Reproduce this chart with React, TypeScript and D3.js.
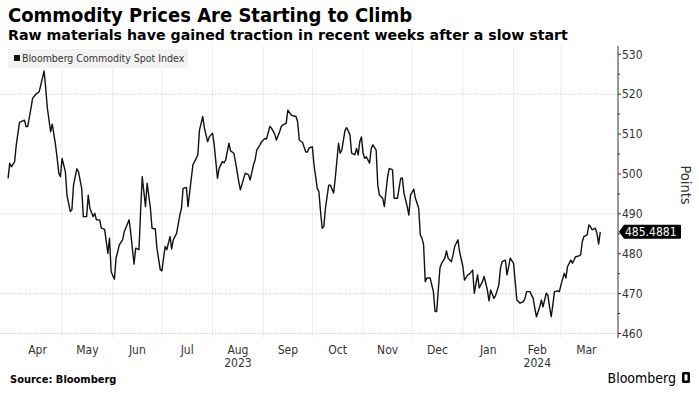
import React from "react";
import * as d3 from "d3";

const dates = [
"2023-03-29","2023-03-30","2023-03-31","2023-04-02","2023-04-03","2023-04-05","2023-04-06","2023-04-08","2023-04-09","2023-04-10",
"2023-04-12","2023-04-13","2023-04-15","2023-04-17","2023-04-18","2023-04-20","2023-04-21","2023-04-22","2023-04-24","2023-04-25",
"2023-04-27","2023-04-28","2023-04-29","2023-04-30","2023-05-01","2023-05-03","2023-05-04","2023-05-06","2023-05-07","2023-05-08",
"2023-05-10","2023-05-11","2023-05-13","2023-05-14","2023-05-16","2023-05-17","2023-05-18","2023-05-20","2023-05-21","2023-05-22",
"2023-05-24","2023-05-25","2023-05-27","2023-05-29","2023-05-30","2023-05-31","2023-06-02","2023-06-03","2023-06-05","2023-06-07",
"2023-06-08","2023-06-11","2023-06-12","2023-06-14","2023-06-15","2023-06-17","2023-06-18","2023-06-19","2023-06-21","2023-06-22",
"2023-06-24","2023-06-25","2023-06-27","2023-06-28","2023-06-30","2023-07-01","2023-07-03","2023-07-04","2023-07-06","2023-07-07",
"2023-07-08","2023-07-10","2023-07-12","2023-07-13","2023-07-14","2023-07-16","2023-07-17","2023-07-19","2023-07-20","2023-07-22",
"2023-07-23","2023-07-24","2023-07-26","2023-07-27","2023-07-29","2023-07-30","2023-08-01","2023-08-02","2023-08-04","2023-08-05",
"2023-08-07","2023-08-08","2023-08-09","2023-08-11","2023-08-12","2023-08-14","2023-08-15","2023-08-17","2023-08-18","2023-08-20",
"2023-08-21","2023-08-23","2023-08-24","2023-08-26","2023-08-27","2023-08-28","2023-08-30","2023-08-31","2023-09-02","2023-09-03",
"2023-09-05","2023-09-06","2023-09-08","2023-09-09","2023-09-11","2023-09-12","2023-09-13","2023-09-15","2023-09-16","2023-09-18",
"2023-09-19","2023-09-21","2023-09-22","2023-09-23","2023-09-25","2023-09-27","2023-09-28","2023-09-29","2023-10-01","2023-10-02",
"2023-10-04","2023-10-05","2023-10-06","2023-10-07","2023-10-08","2023-10-09","2023-10-11","2023-10-12","2023-10-14","2023-10-15",
"2023-10-17","2023-10-18","2023-10-19","2023-10-21","2023-10-22","2023-10-24","2023-10-25","2023-10-27","2023-10-28","2023-10-29",
"2023-10-30","2023-10-31","2023-11-01","2023-11-02","2023-11-03","2023-11-05","2023-11-06","2023-11-07","2023-11-09","2023-11-10",
"2023-11-11","2023-11-13","2023-11-14","2023-11-16","2023-11-17","2023-11-19","2023-11-20","2023-11-22","2023-11-24","2023-11-25",
"2023-11-26","2023-11-28","2023-11-29","2023-11-30","2023-12-02","2023-12-03","2023-12-05","2023-12-06","2023-12-07","2023-12-08",
"2023-12-09","2023-12-10","2023-12-12","2023-12-14","2023-12-15","2023-12-16","2023-12-18","2023-12-19","2023-12-21","2023-12-22",
"2023-12-23","2023-12-25","2023-12-26","2023-12-27","2023-12-29","2023-12-30","2024-01-01","2024-01-02","2024-01-04","2024-01-05",
"2024-01-07","2024-01-08","2024-01-10","2024-01-11","2024-01-13","2024-01-14","2024-01-16","2024-01-17","2024-01-18","2024-01-20",
"2024-01-21","2024-01-23","2024-01-24","2024-01-25","2024-01-27","2024-01-28","2024-01-30","2024-02-01","2024-02-02","2024-02-03",
"2024-02-05","2024-02-07","2024-02-08","2024-02-09","2024-02-11","2024-02-13","2024-02-14","2024-02-15","2024-02-17","2024-02-18",
"2024-02-19","2024-02-21","2024-02-22","2024-02-23","2024-02-24","2024-02-25","2024-02-26","2024-02-28","2024-02-29","2024-03-01",
"2024-03-03","2024-03-04","2024-03-05","2024-03-07","2024-03-08","2024-03-10","2024-03-11","2024-03-13","2024-03-14","2024-03-15",
"2024-03-17","2024-03-18","2024-03-19","2024-03-20","2024-03-22","2024-03-23","2024-03-24","2024-03-25",
];

const values = [
498.9,502.7,501.8,503.1,507.3,513.0,513.1,513.5,511.9,511.9,
516.5,519.0,520.0,520.6,522.3,525.8,521.5,516.5,510.6,512.5,
507.3,503.9,500.2,499.3,503.9,500.6,494.7,490.6,491.0,497.2,
501.3,500.6,496.4,489.3,489.3,494.7,491.4,489.3,490.1,488.5,
488.5,486.4,486.1,480.1,483.9,475.5,473.6,478.9,482.2,483.5,
485.5,488.5,485.1,477.4,481.4,481.0,490.6,499.3,491.8,497.7,
491.4,486.4,486.2,481.4,476.0,475.7,481.8,481.0,484.3,481.2,
483.5,485.1,489.7,491.4,496.4,496.6,491.8,498.9,502.3,503.9,
504.8,511.0,514.4,511.5,508.1,509.3,510.2,507.3,498.9,501.4,
503.1,502.8,503.5,507.7,505.8,505.2,503.1,498.1,496.0,498.9,
500.2,499.8,498.5,502.3,503.5,506.0,507.3,508.1,508.9,508.8,
511.9,511.5,510.0,508.5,510.6,511.9,512.3,512.7,516.0,514.8,
514.6,514.4,513.1,508.5,507.9,505.5,505.5,506.5,506.8,502.3,
496.4,495.6,490.6,486.4,486.8,491.4,497.2,497.2,495.2,498.9,
507.7,505.2,506.0,511.0,511.6,509.8,505.2,504.8,506.4,504.8,
508.1,509.3,505.2,503.9,504.3,502.7,506.4,507.3,506.0,497.2,
494.7,493.9,491.8,499.3,501.4,501.0,493.9,493.9,498.9,499.0,
495.2,491.8,489.7,494.7,496.2,493.9,491.4,484.7,483.9,482.2,
473.0,473.9,473.9,470.5,465.5,465.5,476.4,477.6,478.9,480.7,
478.9,478.0,479.7,481.8,483.5,480.5,476.8,473.4,474.7,474.9,
475.9,470.1,474.7,471.4,473.0,474.3,470.9,468.2,470.9,468.8,
469.5,472.2,476.4,478.0,478.4,474.7,478.9,477.6,473.0,468.4,
467.6,468.0,468.8,470.5,470.5,468.8,466.3,464.2,466.7,468.4,
466.7,470.1,469.6,466.7,464.2,467.1,470.5,470.7,470.5,472.2,
475.1,473.9,476.8,478.4,477.6,479.3,479.3,479.7,483.0,484.3,
484.7,487.2,486.8,486.0,486.4,485.1,482.4,485.4881,
];

const yTicks = [460, 470, 480, 490, 500, 510, 520, 530];
const yMinorTicks = [465, 475, 485, 495, 505, 515, 525];
const yGrid = [460, 470, 490, 520];
const monthLabels = ["Apr", "May", "Jun", "Jul", "Aug", "Sep", "Oct", "Nov", "Dec", "Jan", "Feb", "Mar"];
const monthStarts = ["2023-04-01","2023-05-01","2023-06-01","2023-07-01","2023-08-01","2023-09-01","2023-10-01","2023-11-01","2023-12-01","2024-01-01","2024-02-01","2024-03-01","2024-04-01"];
const yearLabels = [{ label: "2023", month: "Aug" }, { label: "2024", month: "Feb" }];

const title = "Commodity Prices Are Starting to Climb";
const subtitle = "Raw materials have gained traction in recent weeks after a slow start";
const seriesName = "Bloomberg Commodity Spot Index";
const lastLabel = "485.4881";

const W = 699, H = 393;
const condensed = "'DejaVu Sans Condensed', 'Liberation Sans Narrow', 'Liberation Sans', sans-serif";
const wide = "'DejaVu Sans', Verdana, sans-serif";

export default function App() {
  const parse = d3.timeParse("%Y-%m-%d");
  const data = dates.map((d, i) => ({ date: parse(d) as Date, value: values[i] }));
  const starts = monthStarts.map((d) => parse(d) as Date);

  const x = d3.scaleTime().domain([starts[0], starts[11]]).range([13, 561]);
  const y = d3.scaleLinear().domain([460, 530]).range([333.5, 54.3]);
  const plotTop = 46, plotBottom = 338, axisX = 618;

  const line = d3.line<{ date: Date; value: number }>()
    .x((d) => x(d.date))
    .y((d) => y(d.value));

  const last = data[data.length - 1];
  const ly = y(last.value);

  const mids = monthLabels.map((m, i) => ({
    label: m,
    x: (x(starts[i]) + x(starts[i + 1])) / 2,
  }));

  return (
    <svg width={W} height={H} style={{ position: "absolute", left: 0, top: 0, background: "#fff" }}>
      <text x={8} y={22} fontFamily={condensed} fontWeight="bold" fontSize={20} fill="#000">{title}</text>
      <text x={8} y={40} fontFamily={wide} fontWeight="bold" fontSize={14.2} fill="#000">{subtitle}</text>

      {/* vertical month gridlines */}
      {starts.slice(1, 12).map((d, i) => (
        <line key={"vg" + i} x1={x(d)} x2={x(d)} y1={plotTop} y2={plotBottom} stroke="#ececec" strokeWidth={1} />
      ))}
      {/* horizontal gridlines */}
      {yGrid.map((v) => (
        <line key={"hg" + v} x1={0} x2={axisX} y1={y(v)} y2={y(v)} stroke="#c8c8c8" strokeWidth={1} strokeDasharray="1,1.5" />
      ))}

      {/* legend */}
      <rect x={8} y={49} width={180} height={19} fill="#f3f3f3" />
      <rect x={14} y={55} width={6} height={6} fill="#111" />
      <text x={22} y={62} fontFamily={condensed} fontSize={10.5} fill="#333">{seriesName}</text>

      {/* line */}
      <path d={line(data) || ""} fill="none" stroke="#111" strokeWidth={1.4} strokeLinejoin="round" />

      {/* right axis */}
      <line x1={axisX} x2={axisX} y1={plotTop} y2={plotBottom} stroke="#333" strokeWidth={1} />
      {yTicks.map((v) => (
        <g key={"yt" + v}>
          <line x1={axisX} x2={axisX + 3} y1={y(v)} y2={y(v)} stroke="#333" />
          <text x={axisX + 4} y={y(v)} dy="0.35em" fontFamily={condensed} fontSize={12} fill="#333">{v}</text>
        </g>
      ))}
      {yMinorTicks.map((v) => (
        <line key={"ym" + v} x1={axisX} x2={axisX + 2} y1={y(v)} y2={y(v)} stroke="#333" />
      ))}
      <text transform={`translate(681,185) rotate(90)`} textAnchor="middle" fontFamily={condensed} fontSize={14.5} fill="#333">Points</text>

      {/* last value badge */}
      <path d={`M${axisX + 1},${ly} L${axisX + 6},${ly - 7} L${axisX + 62},${ly - 7} Q${axisX + 63},${ly - 7} ${axisX + 63},${ly - 6} L${axisX + 63},${ly + 6} Q${axisX + 63},${ly + 7} ${axisX + 62},${ly + 7} L${axisX + 6},${ly + 7} Z`} fill="#000" />
      <text x={axisX + 7} y={ly} dy="0.36em" fontFamily={condensed} fontSize={12} fill="#fff">{lastLabel}</text>

      {/* x axis labels */}
      {mids.map((m) => (
        <text key={"xl" + m.label} x={m.x} y={354} textAnchor="middle" fontFamily={condensed} fontSize={12} fill="#333">{m.label}</text>
      ))}
      {yearLabels.map((yl) => {
        const mm = mids.find((m) => m.label === yl.month)!;
        return (
          <text key={"yl" + yl.label} x={mm.x} y={367} textAnchor="middle" fontFamily={condensed} fontSize={12} fill="#333">{yl.label}</text>
        );
      })}

      {/* footer */}
      <text x={10} y={383} fontFamily={condensed} fontWeight="bold" fontSize={11} fill="#000">Source: Bloomberg</text>
      <text x={676} y={383} textAnchor="end" fontFamily={condensed} fontSize={14} fill="#000">Bloomberg</text>
      <rect x={682} y={372} width={8} height={11} rx={1.5} fill="#000" />
      <rect x={684.5} y={374.5} width={3} height={6} fill="#fff" />
    </svg>
  );
}
